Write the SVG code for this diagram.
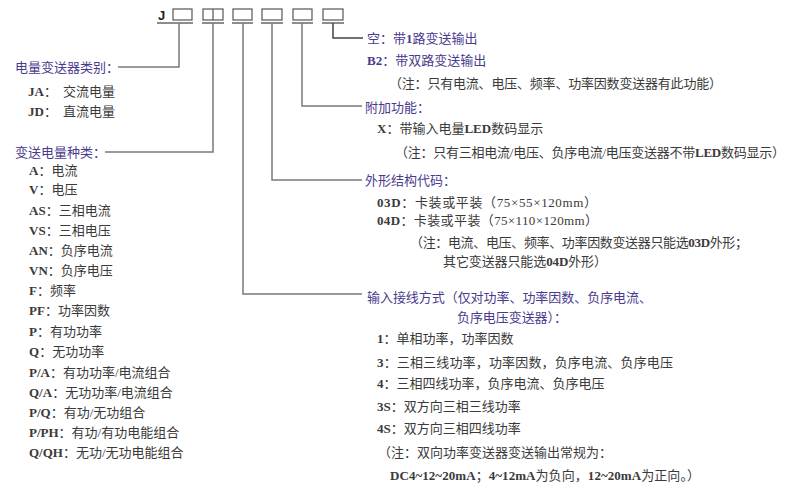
<svg xmlns="http://www.w3.org/2000/svg" width="790" height="491" viewBox="0 0 790 491">
<style>
text{font-family:"Liberation Serif","Noto Sans CJK SC",serif;font-size:13px;fill:#3a3a3a}
.h{fill:#4a3a8e}
.b{font-weight:bold}
.box{fill:#fff;stroke:#555;stroke-width:1.2}
.ul{stroke:#666;stroke-width:1.5}
.c{fill:none;stroke:#7a7a7a;stroke-width:1.5}
</style>
<rect width="790" height="491" fill="#fff"/>
<g id="code">
<text x="158" y="20" style="font-family:'Liberation Sans',sans-serif;font-weight:bold;font-size:13px;fill:#222">J</text>
<rect class="box" x="173" y="9" width="19" height="11"/>
<rect class="box" x="203" y="9" width="20" height="11"/>
<line x1="213" y1="9" x2="213" y2="20" stroke="#555" stroke-width="1.2"/>
<rect class="box" x="233" y="9" width="19" height="11"/>
<rect class="box" x="262" y="9" width="20" height="11"/>
<rect class="box" x="293" y="9" width="19" height="11"/>
<rect class="box" x="323" y="9" width="20" height="11"/>
<line class="ul" x1="157" y1="23" x2="193" y2="23"/>
<line class="ul" x1="202" y1="23" x2="224" y2="23"/>
<line class="ul" x1="232" y1="23" x2="253" y2="23"/>
<line class="ul" x1="261" y1="23" x2="283" y2="23"/>
<line class="ul" x1="292" y1="23" x2="313" y2="23"/>
<line class="ul" x1="322" y1="23" x2="344" y2="23"/>
</g>
<g id="connectors">
<path class="c" d="M179,23 V67 H118"/>
<path class="c" d="M213,23 V152 H105"/>
<path class="c" d="M243,23 V294 H362"/>
<path class="c" d="M272,23 V180 H362"/>
<path class="c" d="M302,23 V106 H362"/>
<path class="c" d="M333,23 V38 H363" style="stroke:#444"/>
</g>
<g id="category">
<text class="h" x="15" y="72">电量变送器类别：</text>
<text x="28" y="96"><tspan class="b">JA</tspan>：</text><text x="63" y="96">交流电量</text>
<text x="28" y="116"><tspan class="b">JD</tspan>：</text><text x="63" y="116">直流电量</text>
</g>
<g id="kind">
<text class="h" x="15" y="157">变送电量种类：</text>
<text x="29" y="175"><tspan class="b">A</tspan>：电流</text>
<text x="29" y="194"><tspan class="b">V</tspan>：电压</text>
<text x="29" y="215"><tspan class="b">AS</tspan>：三相电流</text>
<text x="29" y="235"><tspan class="b">VS</tspan>：三相电压</text>
<text x="29" y="255"><tspan class="b">AN</tspan>：负序电流</text>
<text x="29" y="275"><tspan class="b">VN</tspan>：负序电压</text>
<text x="29" y="295"><tspan class="b">F</tspan>：频率</text>
<text x="29" y="315"><tspan class="b">PF</tspan>：功率因数</text>
<text x="29" y="336"><tspan class="b">P</tspan>：有功功率</text>
<text x="29" y="356"><tspan class="b">Q</tspan>：无功功率</text>
<text x="29" y="377"><tspan class="b">P/A</tspan>：有功功率/电流组合</text>
<text x="29" y="397"><tspan class="b">Q/A</tspan>：无功功率/电流组合</text>
<text x="29" y="417"><tspan class="b">P/Q</tspan>：有功/无功组合</text>
<text x="29" y="437"><tspan class="b">P/PH</tspan>：有功/有功电能组合</text>
<text x="29" y="457"><tspan class="b">Q/QH</tspan>：无功/无功电能组合</text>
</g>
<g id="output">
<text class="h" x="367" y="43">空：带<tspan class="b">1</tspan>路变送输出</text>
<text class="h" x="367" y="65"><tspan class="b">B2</tspan>：带双路变送输出</text>
<text x="389" y="88" textLength="333">（注：只有电流、电压、频率、功率因数变送器有此功能）</text>
</g>
<g id="extra">
<text class="h" x="365" y="112">附加功能：</text>
<text x="377" y="133"><tspan class="b">X</tspan>：带输入电量<tspan class="b">LED</tspan>数码显示</text>
<text x="395" y="157" textLength="390">（注：只有三相电流/电压、负序电流/电压变送器不带<tspan class="b">LED</tspan>数码显示）</text>
</g>
<g id="shape">
<text class="h" x="365" y="185">外形结构代码：</text>
<text x="377" y="207" textLength="220"><tspan class="b">03D</tspan>：卡装或平装（75×55×120mm）</text>
<text x="377" y="225" textLength="221"><tspan class="b">04D</tspan>：卡装或平装（75×110×120mm）</text>
<text x="410" y="247" textLength="338">（注：电流、电压、频率、功率因数变送器只能选<tspan class="b">03D</tspan>外形；</text>
<text x="443" y="266" textLength="164">其它变送器只能选<tspan class="b">04D</tspan>外形）</text>
</g>
<g id="wiring">
<text class="h" x="367" y="302" textLength="285">输入接线方式（仅对功率、功率因数、负序电流、</text>
<text class="h" x="457" y="322" textLength="110">负序电压变送器）：</text>
<text x="377" y="343"><tspan class="b">1</tspan>：单相功率，功率因数</text>
<text x="377" y="367" textLength="296"><tspan class="b">3</tspan>：三相三线功率，功率因数，负序电流、负序电压</text>
<text x="377" y="388"><tspan class="b">4</tspan>：三相四线功率，负序电流、负序电压</text>
<text x="377" y="411"><tspan class="b">3S</tspan>：双方向三相三线功率</text>
<text x="377" y="433"><tspan class="b">4S</tspan>：双方向三相四线功率</text>
<text x="378" y="457">（注：双向功率变送器变送输出常规为：</text>
<text x="390" y="480" textLength="310"><tspan class="b">DC4~12~20mA</tspan>；<tspan class="b">4~12mA</tspan>为负向，<tspan class="b">12~20mA</tspan>为正向。）</text>
</g>
</svg>
